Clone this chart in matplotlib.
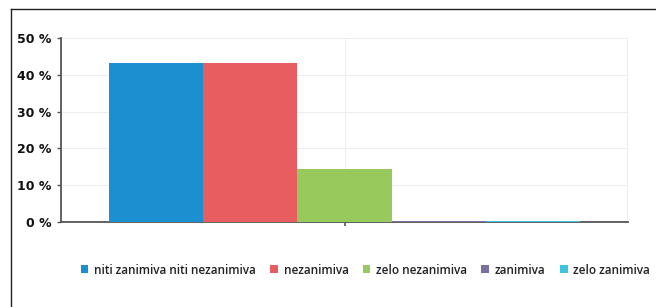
import numpy as np
import matplotlib
matplotlib.use("Agg")
import matplotlib.pyplot as plt
from matplotlib.lines import Line2D

# data (percent)
categories = ["niti zanimiva niti nezanimiva", "nezanimiva", "zelo nezanimiva",
              "zanimiva", "zelo zanimiva"]
values = [43.2, 43.2, 14.5, 0.3, 0.4]
colors = ["#1b8fd0", "#e85d60", "#98c95d", "#7c70a2", "#3cc3df"]
y_ticks = [0, 10, 20, 30, 40, 50]
y_labels = ["0 %", "10 %", "20 %", "30 %", "40 %", "50 %"]

W, H = 656, 307
fig = plt.figure(figsize=(W / 100, H / 100), dpi=100)
fig.patch.set_facecolor("white")

# outer frame: only top and left edges are inside the picture
fig.add_artist(Line2D([11 / W, 1.0], [1 - 9 / H, 1 - 9 / H], transform=fig.transFigure,
                      color="#222222", linewidth=1.0))
fig.add_artist(Line2D([11 / W, 11 / W], [0.0, 1 - 9 / H], transform=fig.transFigure,
                      color="#222222", linewidth=1.0))

ax = fig.add_axes([61 / W, 1 - 222 / H, (628 - 61) / W, (222 - 38) / H])

x = np.arange(len(values)) - 2
for i in range(len(values)):
    ax.bar(x[i], values[i], width=1.0, color=colors[i], label=categories[i],
           edgecolor="none", zorder=3)

ax.set_xlim(-3.01, 3.01)
ax.set_ylim(0, 50)
ax.set_yticks(y_ticks)
ax.set_yticklabels(y_labels, fontfamily="DejaVu Sans", fontweight="bold",
                   fontsize=9, color="#111111")
ax.set_xticks([0])
ax.set_xticklabels([""])
ax.tick_params(axis="y", length=3, width=1, color="#555555", pad=4)
ax.tick_params(axis="x", length=3, width=1.2, color="#555555")

ax.grid(axis="y", color="#eeeeee", linewidth=0.8, zorder=0)
ax.axvline(0, color="#eeeeee", linewidth=0.8, zorder=0)
ax.axvline(3.0, color="#eeeeee", linewidth=0.8, zorder=0)

for s in ["top", "right"]:
    ax.spines[s].set_visible(False)
ax.spines["left"].set_color("#555555")
ax.spines["left"].set_linewidth(1.3)
ax.spines["bottom"].set_color("#555555")
ax.spines["bottom"].set_linewidth(1.3)

leg = fig.legend(loc="center left", bbox_to_anchor=(70 / W, 1 - 270 / H),
                 ncol=5, frameon=False, handlelength=0.65, handleheight=0.65,
                 handletextpad=0.5, columnspacing=1.2,
                 prop={"family": "Open Sans", "weight": "semibold", "size": 8.5})
for t in leg.get_texts():
    t.set_color("#222222")

fig.savefig("out.png", dpi=100)
